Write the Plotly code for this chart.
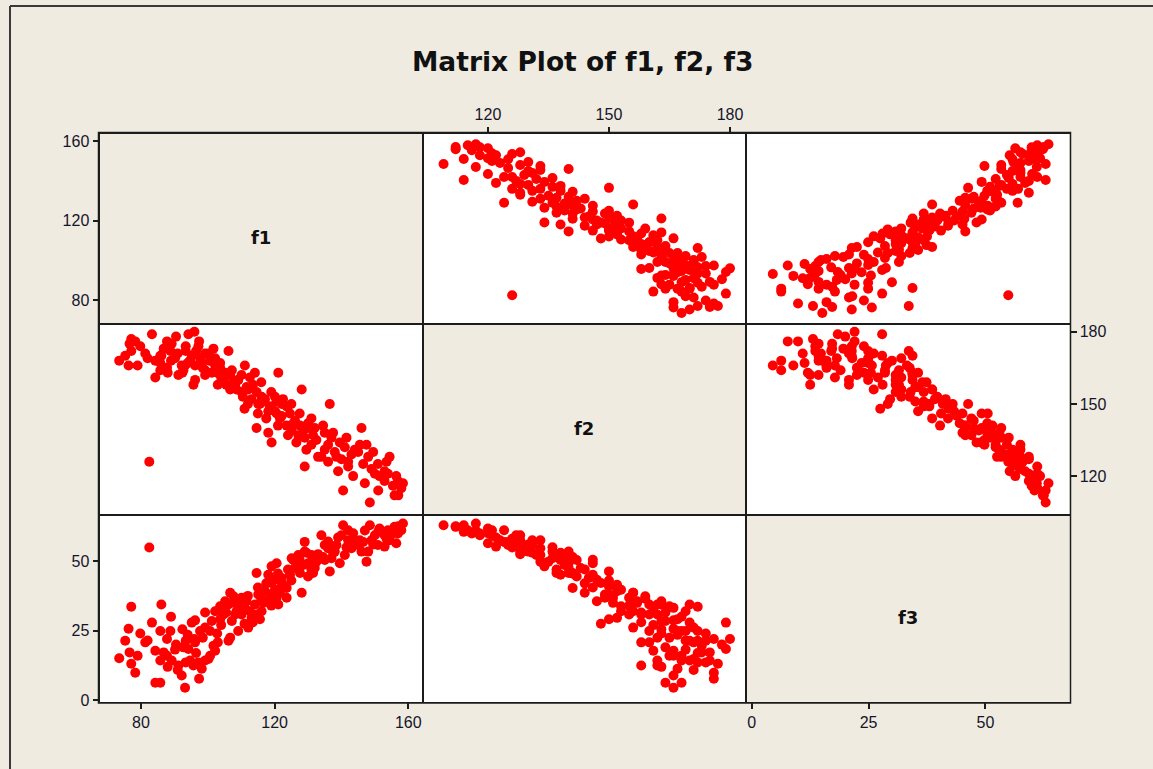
import plotly.graph_objects as go

# ---- data ----
f1 = [82.5, 77.1, 86.1, 89.0, 83.3, 76.3, 79.8, 81.3, 75.3, 76.6, 73.5, 77.1, 78.3, 85.8, 88.8, 92.4, 90.2, 84.3, 85.8, 87.8,
      89.2, 91.0, 92.2, 84.3, 85.8, 93.2, 93.4, 94.2, 96.2, 96.2, 93.4, 95.7, 98.2, 97.4, 99.2, 100.7, 102.2, 103.0, 100.7, 99.2,
      102.2, 103.7, 106.7, 106.2, 104.7, 106.7, 106.2, 108.2, 110.1, 111.1, 109.1, 112.1, 113.1, 115.6, 114.1, 115.1, 117.1, 118.1, 116.1, 119.1,
      114.6, 118.1, 120.6, 119.1, 122.1, 121.1, 123.6, 122.1, 125.1, 126.1, 128.1, 127.6, 129.0, 129.0, 130.0, 131.5, 132.5, 134.0, 136.0, 135.0,
      136.5, 138.0, 139.5, 140.5, 140.0, 142.0, 143.0, 144.0, 146.0, 147.5, 148.5, 149.0, 151.4, 150.9, 152.9, 154.4, 155.4, 156.4, 158.4, 157.9,
      101.2, 103.7, 107.2, 109.1, 111.6, 112.6, 114.6, 116.6, 118.6, 120.1, 120.6, 121.6, 120.1, 123.6, 124.6, 125.6, 127.1, 128.6, 130.0, 131.0,
      132.0, 135.0, 137.0, 138.5, 141.0, 142.0, 145.0, 146.5, 148.0, 150.0, 152.9, 153.9, 156.9, 155.9, 95.2, 92.7, 87.8, 86.8, 91.2, 94.7,
      97.2, 100.2, 101.7, 97.7, 99.2, 105.2, 107.7, 110.1, 108.6, 96.0,
      104.0, 105.5, 108.0, 110.5, 112.0, 113.5, 115.0, 116.0, 117.5, 119.0, 121.0, 122.5, 124.0, 125.0, 126.5, 127.5, 129.5, 131.0, 133.0, 134.5,
      136.0, 137.5, 139.0, 141.5, 143.5, 145.5, 147.0, 149.5, 151.0, 153.5, 157.0, 98.5, 96.5, 94.0, 90.5, 88.0, 82.0, 79.0, 102.8, 111.0]
f2 = [126, 172, 170, 168, 179, 166, 174, 171, 170, 175, 168, 177, 176, 167, 172, 163, 169, 161, 170, 165,
      175, 171, 166, 168, 164, 166, 174, 179, 160, 166, 172, 158, 167, 176, 162, 168, 166, 158, 168, 164,
      169, 165, 156, 162, 160, 162, 172, 158, 155, 166, 160, 156, 152, 150, 163, 150, 152, 147, 153, 148,
      140, 138, 146, 134, 150, 163, 149, 145, 139, 143, 156, 141, 124, 136, 140, 137, 135, 128, 133, 138,
      150, 130, 134, 114, 127, 126, 129, 131, 140, 133, 109, 123, 120, 125, 122, 128, 116, 120, 117, 115,
      163, 167, 164, 160, 157, 161, 155, 151, 149, 153, 151, 144, 147, 141, 146, 142, 137, 139, 142, 133,
      140, 131, 136, 128, 132, 124, 130, 125, 128, 121, 118, 121, 118, 112, 170, 164, 176, 173, 162, 168,
      174, 171, 173, 169, 171, 163, 159, 162, 156, 180,
      161, 158, 157, 153, 150, 158, 146, 159, 144, 155, 141, 152, 137, 150, 134, 146, 131, 144, 128, 141,
      126, 138, 122, 136, 120, 133, 117, 130, 114, 126, 112, 165, 172, 167, 178, 163, 169, 166, 163, 148]
f3 = [54.9, 33.6, 34.4, 30.0, 27.9, 25.7, 24.0, 20.8, 21.4, 17.2, 15.1, 13.1, 9.9, 24.9, 24.9, 25.5, 18.2, 17.8, 14.3, 16.0,
      14.3, 10.9, 8.9, 6.3, 6.3, 4.5, 21.4, 18.4, 20.8, 28.7, 13.6, 12.5, 11.3, 7.7, 14.3, 16.0, 17.8, 20.8, 24.9, 31.5,
      32.0, 33.8, 38.6, 34.4, 30.8, 22.5, 21.4, 30.8, 36.8, 33.2, 24.9, 26.1, 29.6, 29.1, 34.4, 38.0, 39.2, 35.6, 32.0, 42.1,
      45.7, 45.1, 49.2, 48.1, 40.9, 34.4, 36.8, 43.9, 51.0, 47.5, 38.6, 45.7, 56.9, 53.4, 49.2, 45.7, 49.8, 59.3, 54.6, 50.4,
      46.3, 53.4, 49.2, 62.9, 59.3, 57.5, 54.6, 57.5, 53.4, 49.8, 62.9, 57.5, 61.7, 55.8, 55.2, 57.5, 59.9, 56.4, 63.5, 61.1,
      28.5, 29.1, 28.5, 34.4, 35.6, 32.0, 30.8, 35.0, 38.0, 39.7, 36.8, 38.6, 43.3, 40.3, 45.1, 50.4, 52.2, 48.6, 44.5, 52.2,
      47.5, 55.8, 51.0, 55.8, 52.2, 61.1, 55.8, 56.9, 53.4, 59.3, 59.3, 61.1, 59.9, 62.3, 27.9, 19.0, 22.0, 17.2, 12.5, 14.3,
      13.6, 14.8, 19.6, 24.9, 26.1, 35.6, 37.4, 30.8, 32.0, 22.0,
      27.0, 31.5, 35.0, 33.8, 37.5, 28.0, 40.5, 36.5, 42.0, 34.0, 45.5, 41.5, 47.0, 43.0, 49.0, 50.5, 53.0, 47.0, 52.5, 51.5,
      57.0, 53.0, 58.5, 55.0, 60.0, 57.5, 61.0, 56.0, 60.5, 58.0, 62.5, 22.5, 17.0, 23.5, 20.0, 12.0, 21.5, 16.0, 24.0, 27.5]

names = ["f1", "f2", "f3"]
tick_vals = [[80, 120, 160], [120, 150, 180], [0, 25, 50]]
title_text = "Matrix Plot of f1, f2, f3"

# ---- styling / layout ----
W, H = 1153, 769
BG = "#EFEBE1"
LINE = "#1c1c1c"
xranges = [[67.6, 164.4], [103.9, 183.9], [-1.3, 68.0]]
yranges = [[68.2, 163.8], [104.0, 183.4], [-0.6, 66.7]]
col_px = [99.5, 423.0, 745.7, 1069.5]
row_px = [134.0, 326.0, 519.0, 708.3]
xdom = [[col_px[i] / W, col_px[i + 1] / W] for i in range(3)]
ydom = [[1 - row_px[i + 1] / H, 1 - row_px[i] / H] for i in range(3)]

data = [f1, f2, f3]
fig = go.Figure()
layout = {}
shapes = []
annotations = []

x_ticks_on = {(0, 1): "top", (2, 0): "bottom", (2, 2): "bottom"}
y_ticks_on = {(0, 0): "left", (1, 2): "right", (2, 0): "left"}
tickfont = dict(family="Liberation Sans, Arial, sans-serif", size=16, color="#15152a")

for r in range(3):
    for c in range(3):
        k = r * 3 + c + 1
        xname = "x" if k == 1 else f"x{k}"
        yname = "y" if k == 1 else f"y{k}"
        xa = dict(domain=xdom[c], range=xranges[c], anchor=yname, showgrid=False, zeroline=False,
                  showline=True, mirror=True, linecolor=LINE, linewidth=1, fixedrange=True)
        ya = dict(domain=ydom[r], range=yranges[r], anchor=xname, showgrid=False, zeroline=False,
                  showline=True, mirror=True, linecolor=LINE, linewidth=1, fixedrange=True)
        if (r, c) in x_ticks_on:
            xa.update(side=x_ticks_on[(r, c)], tickmode="array", tickvals=tick_vals[c],
                      ticks="outside", ticklen=6, tickwidth=2, tickcolor=LINE,
                      showticklabels=True, tickfont=tickfont)
        else:
            xa.update(showticklabels=False, ticks="")
        if (r, c) in y_ticks_on:
            ya.update(side=y_ticks_on[(r, c)], tickmode="array", tickvals=tick_vals[r],
                      ticks="outside", ticklen=6, tickwidth=2, tickcolor=LINE,
                      showticklabels=True, tickfont=tickfont)
        else:
            ya.update(showticklabels=False, ticks="")
        layout["xaxis" if k == 1 else f"xaxis{k}"] = xa
        layout["yaxis" if k == 1 else f"yaxis{k}"] = ya

        if r != c:
            fig.add_trace(go.Scatter(x=data[c], y=data[r], mode="markers", xaxis=xname, yaxis=yname,
                                     marker=dict(color="#FF0000", size=10, line=dict(width=0)),
                                     hoverinfo="skip", showlegend=False))
        else:
            fig.add_trace(go.Scatter(x=[None], y=[None], mode="markers", xaxis=xname, yaxis=yname,
                                     showlegend=False, hoverinfo="skip"))
            shapes.append(dict(type="rect", xref=f"{xname} domain", yref=f"{yname} domain",
                               x0=0, x1=1, y0=0, y1=1, fillcolor=BG, line=dict(width=0), layer="below"))
            cx = (xdom[c][0] + xdom[c][1]) / 2
            cy = (ydom[r][0] + ydom[r][1]) / 2 - 9 / H
            annotations.append(dict(text=f"<b>{names[r]}</b>", xref="paper", yref="paper", x=cx, y=cy,
                                    xanchor="center", yanchor="middle", showarrow=False,
                                    font=dict(family="DejaVu Sans, sans-serif", size=18, color="#111111")))

annotations.append(dict(text=f"<b>{title_text}</b>", xref="paper", yref="paper", x=582.5 / W, y=1 - 61 / H,
                        xanchor="center", yanchor="middle", showarrow=False,
                        font=dict(family="DejaVu Sans, sans-serif", size=26.5, color="#111111")))

# outer border of the whole matrix
shapes.append(dict(type="rect", xref="paper", yref="paper", x0=(col_px[0] - 1) / W, x1=(col_px[3] + 1) / W,
                   y0=1 - (row_px[3] + 1) / H, y1=1 - (row_px[0] - 1) / H,
                   line=dict(color=LINE, width=1.5), fillcolor="rgba(0,0,0,0)"))

# outer window frame (left and top edges)
shapes.append(dict(type="line", xref="paper", yref="paper", x0=10 / W, x1=10 / W, y0=-0.02, y1=1 - 5 / H,
                   line=dict(color="#3a3a3a", width=2)))
shapes.append(dict(type="line", xref="paper", yref="paper", x0=10 / W, x1=1.02, y0=1 - 5 / H, y1=1 - 5 / H,
                   line=dict(color="#3a3a3a", width=2)))

fig.update_layout(**layout)
fig.update_layout(width=W, height=H, margin=dict(l=0, r=0, t=0, b=0), paper_bgcolor=BG,
                  plot_bgcolor="white", shapes=shapes, annotations=annotations, showlegend=False)
fig.write_html("out.html", config={"displayModeBar": False})
